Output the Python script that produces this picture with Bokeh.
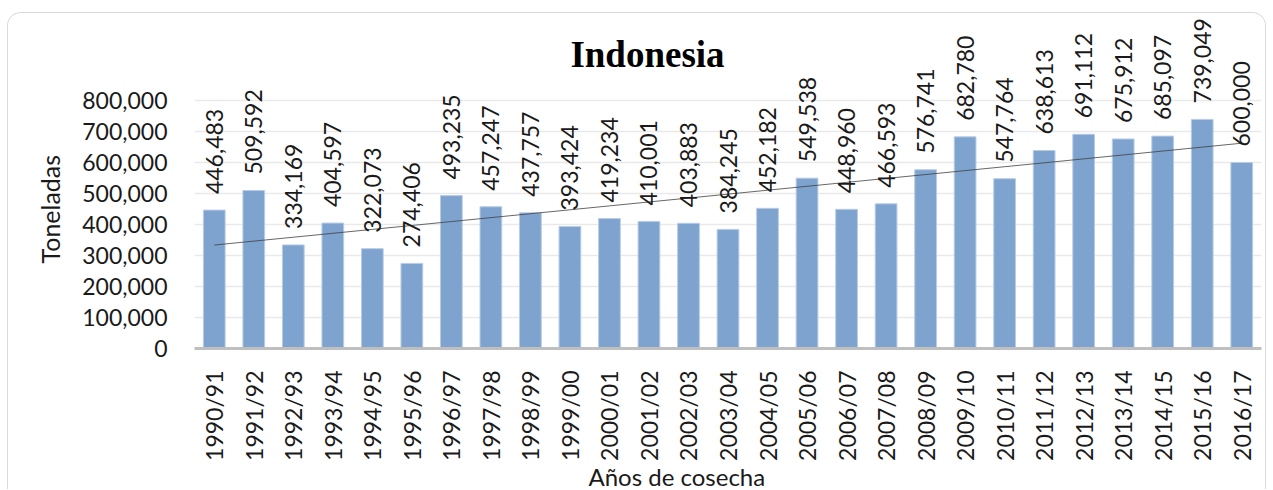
import math
import numpy as np
from bokeh.plotting import figure
from bokeh.models import ColumnDataSource, Range1d, FixedTicker, NumeralTickFormatter, Label, Title
from bokeh.core.properties import value
from bokeh.embed import file_html
from bokeh.resources import INLINE

# ---- data ----
seasons = ["1990/91", "1991/92", "1992/93", "1993/94", "1994/95", "1995/96", "1996/97",
           "1997/98", "1998/99", "1999/00", "2000/01", "2001/02", "2002/03", "2003/04",
           "2004/05", "2005/06", "2006/07", "2007/08", "2008/09", "2009/10", "2010/11",
           "2011/12", "2012/13", "2013/14", "2014/15", "2015/16", "2016/17"]
production = [446483, 509592, 334169, 404597, 322073, 274406, 493235,
              457247, 437757, 393424, 419234, 410001, 403883, 384245,
              452182, 549538, 448960, 466593, 576741, 682780, 547764,
              638613, 691112, 675912, 685097, 739049, 600000]
y_ticks = [0, 100000, 200000, 300000, 400000, 500000, 600000, 700000, 800000]
title_text = "Indonesia"
x_label = "Años de cosecha"
y_label = "Toneladas"

# ---- layout (pixels in the page) ----
FIG_X, FIG_Y = 8, 13          # canvas origin (card at 7,12 + 1px border)
W, H = 1259, 477
FRAME_L, FRAME_R, FRAME_T, FRAME_B = 194, 1261, 14, 348
PX_TOP_TICK = 100  # y pixel of 800,000

n = len(seasons)
y_end = y_ticks[-1] * (FRAME_B - FRAME_T) / (FRAME_B - PX_TOP_TICK)
px_per_cat = (FRAME_R - FRAME_L) / n
px_per_unit = (FRAME_B - FRAME_T) / y_end

def dx(px):
    return (px - FRAME_L) / px_per_cat

def dy(py):
    return (FRAME_B - py) / px_per_unit

FONT = "Lato"
TXT = "#1a1a1a"

idx = np.arange(n)
coef = np.polyfit(idx, np.array(production, dtype=float), 1)
trend = np.polyval(coef, idx)

src = ColumnDataSource(dict(
    season=seasons,
    production=production,
    label=[f"{v:,}" for v in production],
    trend=trend,
))

p = figure(width=W, height=H, x_range=seasons, y_range=Range1d(0, y_end),
           output_backend="svg", toolbar_location=None,
           min_border_left=FRAME_L - FIG_X, min_border_right=FIG_X + W - FRAME_R,
           min_border_top=FRAME_T - FIG_Y, min_border_bottom=FIG_Y + H - FRAME_B,
           margin=(12, 0, 0, 7))
p.styles = {"border-top": "1px solid #d9d9d9", "border-left": "1px solid #d9d9d9",
            "border-right": "1px solid #d9d9d9", "border-radius": "14px 14px 0 0",
            "overflow": "hidden"}
p.x_range.range_padding = 0
p.outline_line_color = None
p.background_fill_color = "white"
p.border_fill_color = "white"

p.vbar(x="season", top="production", width=0.55, source=src,
       fill_color="#7ea3cf", line_color="#b9cce6", line_width=1)
p.line(x="season", y="trend", source=src, line_color="#404040", line_width=0.8)
p.text(x="season", y="production", text="label", source=src,
       angle=math.pi / 2, text_align="left", text_baseline="middle",
       y_offset=-16, text_font=value(FONT), text_font_size="23px", text_color=TXT)

# axes
p.yaxis.ticker = FixedTicker(ticks=y_ticks)
p.yaxis.formatter = NumeralTickFormatter(format="0,0")
p.yaxis.axis_line_color = None
p.yaxis.major_tick_line_color = None
p.yaxis.minor_tick_line_color = None
p.yaxis.major_label_standoff = 21
p.yaxis.major_label_text_font = FONT
p.yaxis.major_label_text_font_size = "23px"
p.yaxis.major_label_text_color = TXT

p.xaxis.axis_line_color = "#bfbfbf"
p.xaxis.axis_line_width = 3
p.xaxis.major_tick_line_color = None
p.xaxis.minor_tick_line_color = None
p.xaxis.major_label_orientation = math.pi / 2
p.xaxis.major_label_standoff = 16
p.xaxis.major_label_text_font = FONT
p.xaxis.major_label_text_font_size = "23px"
p.xaxis.major_label_text_color = TXT

p.xgrid.grid_line_color = None
p.ygrid.ticker = FixedTicker(ticks=y_ticks)
p.ygrid.grid_line_color = "#e9e9e9"
p.ygrid.grid_line_width = 1.5

# chart title (inside the frame)
p.add_layout(Label(x=dx(647), y=dy(54), text=title_text, text_align="center",
                   text_baseline="middle", text_font="Liberation Serif",
                   text_font_style="bold", text_font_size="37px", text_color="#000000"))

# axis titles
p.add_layout(Title(text=x_label, align="left", offset=588 - FRAME_L, vertical_align="top",
                   standoff=-4, text_font=FONT, text_font_style="normal",
                   text_font_size="24px", text_color=TXT), "below")
p.add_layout(Title(text=y_label, align="left", offset=FRAME_B - 263, vertical_align="top",
                   standoff=26, text_font=FONT, text_font_style="normal",
                   text_font_size="25px", text_color=TXT), "left")

open("out.html", "w").write(file_html(p, INLINE))
